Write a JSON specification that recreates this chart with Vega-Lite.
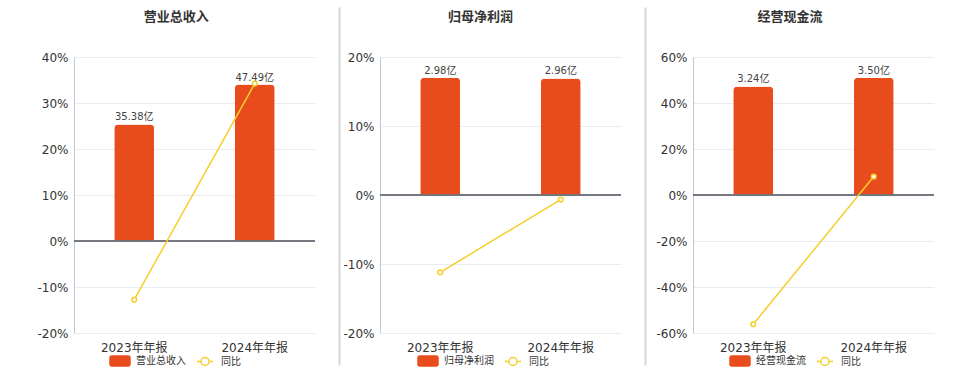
{
  "$schema": "https://vega.github.io/schema/vega-lite/v6.json",
  "background": "white",
  "padding": {"left": 36, "top": 11, "right": 5, "bottom": 2},
  "config": {
    "font": "DejaVu Sans, Noto Sans CJK SC",
    "view": {"stroke": null},
    "concat": {"spacing": 23},
    "axis": {"labelColor": "#333333", "labelFontSize": 12},
    "legend": {
      "orient": "none",
      "direction": "horizontal",
      "title": null,
      "labelFontSize": 10,
      "labelColor": "#333333",
      "symbolSize": 400,
      "labelOffset": 5,
      "columnPadding": 8,
      "padding": 0,
      "symbolStrokeWidth": 1.5,
      "symbolOpacity": 1
    }
  },
  "datasets": {
    "d": [
      {"metric": "营业总收入", "period": "2023年年报", "value": 35.38, "label": "35.38亿", "yoy": -12.76},
      {"metric": "营业总收入", "period": "2024年年报", "value": 47.49, "label": "47.49亿", "yoy": 34.23},
      {"metric": "归母净利润", "period": "2023年年报", "value": 2.98, "label": "2.98亿", "yoy": -11.2},
      {"metric": "归母净利润", "period": "2024年年报", "value": 2.96, "label": "2.96亿", "yoy": -0.67},
      {"metric": "经营现金流", "period": "2023年年报", "value": 3.24, "label": "3.24亿", "yoy": -56.2},
      {"metric": "经营现金流", "period": "2024年年报", "value": 3.50, "label": "3.50亿", "yoy": 8.02}
    ]
  },
  "resolve": {"scale": {"y": "independent", "color": "independent", "x": "independent"}, "legend": {"color": "independent"}},
  "hconcat": [
    {
      "width": 241, "height": 276,
      "title": {"text": "营业总收入", "fontSize": 13, "fontWeight": "bold", "color": "#333333", "anchor": "middle", "frame": "bounds", "offset": 27},
      "data": {"name": "d"},
      "transform": [{"filter": "datum.metric === '营业总收入'"}],
      "layer": [
        {
          "layer": [
            {
              "mark": {"type": "bar", "size": 40, "cornerRadiusTopLeft": 4, "cornerRadiusTopRight": 4},
              "encoding": {
                "x": {"field": "period", "type": "nominal", "sort": null, "scale": {"paddingInner": 0, "paddingOuter": 0}, "axis": {"title": null, "labelAngle": 0, "ticks": false, "domain": false, "labelPadding": 9, "labelFontSize": 12, "labelColor": "#333333"}},
                "y": {"field": "value", "type": "quantitative", "scale": {"domain": [-27.94, 55.87], "nice": false, "zero": false}, "axis": null},
                "color": {"datum": "营业总收入", "type": "nominal", "scale": {"domain": ["营业总收入", "同比"], "range": ["#e84c1c", "#f5cf2b"]},
                  "legend": {"legendX": 35, "legendY": 293, "encode": {"symbols": {"update": {
                    "shape": {"signal": "datum.value === '同比' ? 'M-0.8,0H-0.4M0.4,0H0.8M0.4,0A0.4,0.4,0,1,1,-0.4,0A0.4,0.4,0,1,1,0.4,0M0.4,0A0.4,0.4,0,1,0,-0.4,0A0.4,0.4,0,1,0,0.4,0' : 'M-0.8,-0.5H0.8A0.2,0.2,0,0,1,1,-0.3V0.3A0.2,0.2,0,0,1,0.8,0.5H-0.8A0.2,0.2,0,0,1,-1,0.3V-0.3A0.2,0.2,0,0,1,-0.8,-0.5Z'"},
                    "strokeWidth": {"value": 1.5}
                  }}}}}
              }
            },
            {
              "mark": {"type": "text", "baseline": "bottom", "dy": -2, "fontSize": 10, "color": "#444444"},
              "encoding": {
                "x": {"field": "period", "type": "nominal", "sort": null},
                "y": {"field": "value", "type": "quantitative"},
                "text": {"field": "label"}
              }
            }
          ]
        },
        {
          "layer": [
            {
              "mark": {"type": "rule", "color": "#6e7079", "strokeWidth": 1.5},
              "encoding": {
                "y": {"datum": 0, "type": "quantitative", "scale": {"domain": [-20, 40], "nice": false, "zero": false},
                  "axis": {"orient": "left", "title": null, "values": [-20, -10, 0, 10, 20, 30, 40], "labelExpr": "datum.value + '%'", "grid": true, "gridColor": "#e8edf5", "ticks": false, "domainColor": "#c3c7d0", "labelPadding": 6, "labelFontSize": 12, "labelColor": "#333333"}}
              }
            },
            {
              "mark": {"type": "line", "color": "#f5cf2b", "strokeWidth": 1.5, "point": {"filled": false, "fill": "white", "size": 22, "strokeWidth": 1.5}},
              "encoding": {
                "x": {"field": "period", "type": "nominal", "sort": null},
                "y": {"field": "yoy", "type": "quantitative"},
                "color": {"datum": "同比", "type": "nominal"}
              }
            }
          ]
        }
      ],
      "resolve": {"scale": {"y": "independent"}}
    },
    {
      "width": 241, "height": 276,
      "title": {"text": "归母净利润", "fontSize": 13, "fontWeight": "bold", "color": "#333333", "anchor": "middle", "frame": "bounds", "offset": 27},
      "data": {"name": "d"},
      "transform": [{"filter": "datum.metric === '归母净利润'"}],
      "layer": [
        {
          "layer": [
            {
              "mark": {"type": "bar", "size": 40, "cornerRadiusTopLeft": 4, "cornerRadiusTopRight": 4},
              "encoding": {
                "x": {"field": "period", "type": "nominal", "sort": null, "scale": {"paddingInner": 0, "paddingOuter": 0}, "axis": {"title": null, "labelAngle": 0, "ticks": false, "domain": false, "labelPadding": 9, "labelFontSize": 12, "labelColor": "#333333"}},
                "y": {"field": "value", "type": "quantitative", "scale": {"domain": [-4.319, 4.776], "range": [308, -50], "nice": false, "zero": false},
                  "axis": {"orient": "left", "offset": 41, "labels": false, "ticks": false, "grid": false, "title": null, "domainColor": "#d6d6d6", "domainWidth": 2}},
                "color": {"datum": "归母净利润", "type": "nominal", "scale": {"domain": ["归母净利润", "同比"], "range": ["#e84c1c", "#f5cf2b"]},
                  "legend": {"legendX": 37, "legendY": 293, "encode": {"symbols": {"update": {
                    "shape": {"signal": "datum.value === '同比' ? 'M-0.8,0H-0.4M0.4,0H0.8M0.4,0A0.4,0.4,0,1,1,-0.4,0A0.4,0.4,0,1,1,0.4,0M0.4,0A0.4,0.4,0,1,0,-0.4,0A0.4,0.4,0,1,0,0.4,0' : 'M-0.8,-0.5H0.8A0.2,0.2,0,0,1,1,-0.3V0.3A0.2,0.2,0,0,1,0.8,0.5H-0.8A0.2,0.2,0,0,1,-1,0.3V-0.3A0.2,0.2,0,0,1,-0.8,-0.5Z'"},
                    "strokeWidth": {"value": 1.5}
                  }}}}}
              }
            },
            {
              "mark": {"type": "text", "baseline": "bottom", "dy": -2, "fontSize": 10, "color": "#444444"},
              "encoding": {
                "x": {"field": "period", "type": "nominal", "sort": null},
                "y": {"field": "value", "type": "quantitative"},
                "text": {"field": "label"}
              }
            }
          ]
        },
        {
          "layer": [
            {
              "mark": {"type": "rule", "color": "#6e7079", "strokeWidth": 1.5},
              "encoding": {
                "y": {"datum": 0, "type": "quantitative", "scale": {"domain": [-20, 20], "nice": false, "zero": false},
                  "axis": {"orient": "left", "title": null, "values": [-20, -10, 0, 10, 20], "labelExpr": "datum.value + '%'", "grid": true, "gridColor": "#e8edf5", "ticks": false, "domainColor": "#c3c7d0", "labelPadding": 6, "labelFontSize": 12, "labelColor": "#333333"}}
              }
            },
            {
              "mark": {"type": "line", "color": "#f5cf2b", "strokeWidth": 1.5, "point": {"filled": false, "fill": "white", "size": 22, "strokeWidth": 1.5}},
              "encoding": {
                "x": {"field": "period", "type": "nominal", "sort": null},
                "y": {"field": "yoy", "type": "quantitative"},
                "color": {"datum": "同比", "type": "nominal"}
              }
            }
          ]
        }
      ],
      "resolve": {"scale": {"y": "independent"}}
    },
    {
      "width": 241, "height": 276,
      "title": {"text": "经营现金流", "fontSize": 13, "fontWeight": "bold", "color": "#333333", "anchor": "middle", "frame": "bounds", "offset": 27},
      "data": {"name": "d"},
      "transform": [{"filter": "datum.metric === '经营现金流'"}],
      "layer": [
        {
          "layer": [
            {
              "mark": {"type": "bar", "size": 40, "cornerRadiusTopLeft": 4, "cornerRadiusTopRight": 4},
              "encoding": {
                "x": {"field": "period", "type": "nominal", "sort": null, "scale": {"paddingInner": 0, "paddingOuter": 0}, "axis": {"title": null, "labelAngle": 0, "ticks": false, "domain": false, "labelPadding": 9, "labelFontSize": 12, "labelColor": "#333333"}},
                "y": {"field": "value", "type": "quantitative", "scale": {"domain": [-5.073, 5.61], "range": [308, -50], "nice": false, "zero": false},
                  "axis": {"orient": "left", "offset": 48, "labels": false, "ticks": false, "grid": false, "title": null, "domainColor": "#d6d6d6", "domainWidth": 2}},
                "color": {"datum": "经营现金流", "type": "nominal", "scale": {"domain": ["经营现金流", "同比"], "range": ["#e84c1c", "#f5cf2b"]},
                  "legend": {"legendX": 36, "legendY": 293, "encode": {"symbols": {"update": {
                    "shape": {"signal": "datum.value === '同比' ? 'M-0.8,0H-0.4M0.4,0H0.8M0.4,0A0.4,0.4,0,1,1,-0.4,0A0.4,0.4,0,1,1,0.4,0M0.4,0A0.4,0.4,0,1,0,-0.4,0A0.4,0.4,0,1,0,0.4,0' : 'M-0.8,-0.5H0.8A0.2,0.2,0,0,1,1,-0.3V0.3A0.2,0.2,0,0,1,0.8,0.5H-0.8A0.2,0.2,0,0,1,-1,0.3V-0.3A0.2,0.2,0,0,1,-0.8,-0.5Z'"},
                    "strokeWidth": {"value": 1.5}
                  }}}}}
              }
            },
            {
              "mark": {"type": "text", "baseline": "bottom", "dy": -2, "fontSize": 10, "color": "#444444"},
              "encoding": {
                "x": {"field": "period", "type": "nominal", "sort": null},
                "y": {"field": "value", "type": "quantitative"},
                "text": {"field": "label"}
              }
            }
          ]
        },
        {
          "layer": [
            {
              "mark": {"type": "rule", "color": "#6e7079", "strokeWidth": 1.5},
              "encoding": {
                "y": {"datum": 0, "type": "quantitative", "scale": {"domain": [-60, 60], "nice": false, "zero": false},
                  "axis": {"orient": "left", "title": null, "values": [-60, -40, -20, 0, 20, 40, 60], "labelExpr": "datum.value + '%'", "grid": true, "gridColor": "#e8edf5", "ticks": false, "domainColor": "#c3c7d0", "labelPadding": 6, "labelFontSize": 12, "labelColor": "#333333"}}
              }
            },
            {
              "mark": {"type": "line", "color": "#f5cf2b", "strokeWidth": 1.5, "point": {"filled": false, "fill": "white", "size": 22, "strokeWidth": 1.5}},
              "encoding": {
                "x": {"field": "period", "type": "nominal", "sort": null},
                "y": {"field": "yoy", "type": "quantitative"},
                "color": {"datum": "同比", "type": "nominal"}
              }
            }
          ]
        }
      ],
      "resolve": {"scale": {"y": "independent"}}
    }
  ]
}
